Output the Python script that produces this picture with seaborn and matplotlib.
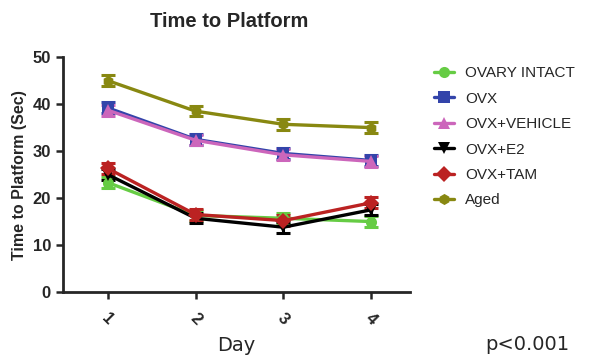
import pandas as pd
import seaborn as sns
import matplotlib.pyplot as plt

days = [1, 2, 3, 4]
groups = ["OVARY INTACT", "OVX", "OVX+VEHICLE", "OVX+E2", "OVX+TAM", "Aged"]
intact = [23.3, 16.3, 15.7, 15.0]
ovx = [39.2, 32.5, 29.5, 28.0]
vehicle = [38.7, 32.3, 29.2, 27.8]
e2 = [25.0, 15.7, 13.8, 17.5]
tam = [26.3, 16.5, 15.2, 19.0]
aged = [45.0, 38.5, 35.7, 35.0]
sem = [1.2, 1.1, 1.2, 1.2]

colors = ["#66cc44", "#3344aa", "#cc66bb", "#000000", "#bb2222", "#888811"]
markers = ["o", "s", "^", "v", "D", "h"]

rows = []
for g, vals in zip(groups, [intact, ovx, vehicle, e2, tam, aged]):
    for d, v, s in zip(days, vals, sem):
        rows.append({"Day": d, "Time": v, "SEM": s, "Group": g})
df = pd.DataFrame(rows)

sns.set_style("ticks")
plt.rcParams['font.family'] = ['Liberation Sans', 'DejaVu Sans']

fig = plt.figure(figsize=(5.92, 3.57), dpi=100)
ax = fig.add_axes([0.106, 0.182, 0.587, 0.658])

for g, c, m in zip(groups, colors, markers):
    sub = df[df.Group == g]
    ax.errorbar(sub.Day, sub.Time, yerr=sub.SEM, fmt="none", ecolor=c,
                elinewidth=2.2, capsize=5, capthick=2.2, zorder=2)
sns.lineplot(data=df, x="Day", y="Time", hue="Group", style="Group",
             palette=colors, markers=markers, dashes=False, linewidth=2.4,
             markersize=8, markeredgewidth=0, ax=ax, zorder=3)

ax.set_xlim(0.487, 4.445)
ax.set_ylim(0, 50)
ax.set_xticks(days)
ax.set_yticks([0, 10, 20, 30, 40, 50])
ax.tick_params(axis="both", width=1.8, length=5, labelsize=12)
ax.tick_params(axis="x", pad=8)
for lab in ax.get_xticklabels():
    lab.set_rotation(-45)
    lab.set_fontweight("bold")
for lab in ax.get_yticklabels():
    lab.set_fontweight("bold")
for sp in ["left", "bottom"]:
    ax.spines[sp].set_linewidth(2)
sns.despine(ax=ax)

ax.set_xlabel("Day", fontsize=14, labelpad=6, family="DejaVu Sans")
ax.set_ylabel("Time to Platform (Sec)", fontsize=11.5, fontweight="bold")
ax.set_title("Time to Platform", fontsize=14.5, fontweight="bold", pad=22,
             x=0.48)

ax.legend(loc="upper left", bbox_to_anchor=(1.03, 1.02), frameon=False,
          fontsize=11, handlelength=1.3, labelspacing=0.75, handletextpad=0.7)
fig.text(0.82, 0.02, "p<0.001", fontsize=14, family="DejaVu Sans")

fig.savefig("out.png", dpi=100)
